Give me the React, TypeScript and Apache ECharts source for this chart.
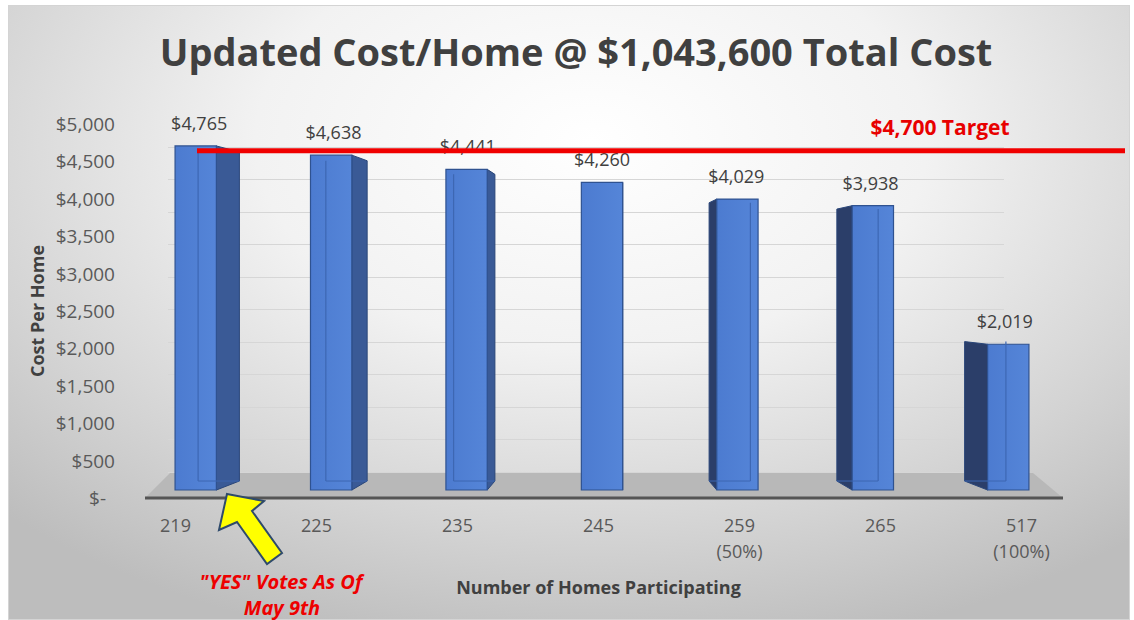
import React, { useEffect, useRef } from "react";
import * as echarts from "echarts";

// ---- data ----
const homes = ["219", "225", "235", "245", "259", "265", "517"];
const homeNotes = ["", "", "", "", "(50%)", "", "(100%)"];
const costPerHome = [4765, 4638, 4441, 4260, 4029, 3938, 2019];
const targetCost = 4700;
const yMin = 0;
const yMax = 5000;
const yStep = 500;
const titleText = "Updated Cost/Home @ $1,043,600 Total Cost";
const targetText = "$4,700 Target";
const noteLines = ['"YES" Votes As Of', "May 9th"];
const yName = "Cost Per Home";
const xName = "Number of Homes Participating";

// perspective (style) parameters
const VX = 602;
const VY = 284;
const KX = 0.0567;
const KY = 0.0436;
const FONT = "'Open Sans', 'Liberation Sans', sans-serif";

const money = (v: number) => "$" + v.toLocaleString("en-US");

export default function App() {
  const ref = useRef<HTMLDivElement>(null);
  useEffect(() => {
    if (!ref.current) return;
    const chart = echarts.init(ref.current, null, { renderer: "svg" });
    const xLabels = homes.map((h, i) => (homeNotes[i] ? h + "\n" + homeNotes[i] : h));

    const renderBar = (params: any, api: any) => {
      const i = api.value(0);
      const v = api.value(1);
      const top = api.coord([i, v]);
      const bot = api.coord([i, 0]);
      const w = api.size([1, 0])[0] * 0.305;
      const cx = top[0];
      const xl = cx - w / 2;
      const xr = cx + w / 2;
      const yt = top[1];
      const yb = bot[1];
      const dx = (VX - cx) * KX;
      const dyT = (VY - yt) * KY;
      const dyB = (VY - yb) * KY;
      const edge = dx >= 0 ? xr : xl;
      const back = dx >= 0 ? xl + dx : xr + dx;
      const children: any[] = [];
      children.push({
        type: "polygon",
        shape: {
          points: [
            [edge, yt],
            [edge + dx, yt + dyT],
            [edge + dx, yb + dyB],
            [edge, yb],
          ],
        },
        style: { fill: dx >= 0 ? "#3a5a96" : "#2b3e69", stroke: "#2a4679", lineWidth: 1 },
      });
      children.push({
        type: "rect",
        shape: { x: xl, y: yt, width: w, height: yb - yt },
        style: {
          fill: new echarts.graphic.LinearGradient(0, 0, 1, 0, [
            { offset: 0, color: "#4c7bd0" },
            { offset: 1, color: "#5585d8" },
          ]),
          stroke: "#2f5290",
          lineWidth: 1.2,
        },
      });
      if (Math.abs(dx) > 2) {
        children.push({
          type: "line",
          shape: { x1: back, y1: yt + dyT, x2: back, y2: yb + dyB },
          style: { stroke: "#3d67b3", lineWidth: 1.2 },
        });
        children.push({
          type: "line",
          shape: { x1: back, y1: yb + dyB, x2: dx >= 0 ? xr + dx : xl + dx, y2: yb + dyB },
          style: { stroke: "#3d67b3", lineWidth: 1 },
        });
      }
      children.push({
        type: "text",
        style: {
          text: money(v),
          x: cx + dx * 0.15,
          y: yt - 23,
          align: "center",
          verticalAlign: "middle",
          fill: "#404040",
          font: `18px ${FONT}`,
        },
      });
      return { type: "group", children };
    };

    const arrowPts = [
      [227, 494],
      [264, 501],
      [252, 511],
      [282, 553],
      [267, 564],
      [237, 522],
      [219, 530],
    ];

    chart.setOption({
      animation: false,
      title: {
        text: titleText,
        left: 571,
        textAlign: "center",
        top: 27,
        textStyle: { fontFamily: FONT, fontSize: 38, fontWeight: "bold", color: "#404040" },
      },
      grid: [
        { left: 168, right: 130, top: 147, bottom: 148, outerBoundsMode: "none" },
        { left: 125, right: 900, top: 124, bottom: 122, outerBoundsMode: "none" },
        { left: 105, right: 42, top: 124, bottom: 122, outerBoundsMode: "none" },
        { left: 128, right: 58, top: 129, bottom: 130, outerBoundsMode: "none" },
        { left: 197, right: 9, top: 129, bottom: 130, outerBoundsMode: "none" },
      ],
      xAxis: [
        { gridIndex: 0, type: "category", data: homes, show: false },
        { gridIndex: 1, type: "value", show: false },
        {
          gridIndex: 2,
          type: "category",
          data: xLabels,
          axisLine: { show: false },
          axisTick: { show: false },
          axisLabel: {
            margin: 14,
            color: "#595959",
            fontFamily: FONT,
            fontSize: 18,
            lineHeight: 26,
          },
          name: xName,
          nameLocation: "middle",
          nameGap: 80,
          nameTextStyle: { color: "#404040", fontFamily: FONT, fontSize: 18, fontWeight: "bold" },
        },
        { gridIndex: 3, type: "category", data: homes, show: false },
        { gridIndex: 4, type: "value", min: 0, max: 1, show: false },
      ],
      yAxis: [
        {
          gridIndex: 0,
          type: "value",
          min: yMin,
          max: yMax,
          interval: yStep,
          axisLine: { show: false },
          axisTick: { show: false },
          axisLabel: { show: false },
          splitLine: { show: true, lineStyle: { color: "#d6d6d6", width: 1 } },
        },
        {
          gridIndex: 1,
          type: "value",
          min: yMin,
          max: yMax,
          interval: yStep,
          axisLine: { show: false },
          axisTick: { show: false },
          splitLine: { show: false },
          axisLabel: {
            margin: 10,
            color: "#595959",
            fontFamily: FONT,
            fontSize: 19,
            formatter: (v: number) => (v === 0 ? "{z|$-}" : money(v)),
            rich: {
              z: { color: "#595959", fontFamily: FONT, fontSize: 19, padding: [0, 9, 0, 0] },
            },
          },
          name: yName,
          nameLocation: "middle",
          nameRotate: 90,
          nameGap: 79,
          nameTextStyle: { color: "#404040", fontFamily: FONT, fontSize: 18, fontWeight: "bold" },
        },
        { gridIndex: 2, type: "value", show: false },
        { gridIndex: 3, type: "value", min: yMin, max: yMax, show: false },
        { gridIndex: 4, type: "value", min: yMin, max: yMax, show: false },
      ],
      series: [
        {
          type: "custom",
          xAxisIndex: 3,
          yAxisIndex: 3,
          data: costPerHome.map((v, i) => [i, v]),
          encode: { x: 0, y: 1 },
          renderItem: renderBar,
          z: 3,
        },
        {
          type: "line",
          xAxisIndex: 4,
          yAxisIndex: 4,
          data: [
            [0, targetCost],
            [1, targetCost],
          ],
          symbol: "none",
          lineStyle: { color: "#f00000", width: 5, cap: "butt" },
          z: 6,
        },
      ],
      graphic: [
        {
          type: "polygon",
          z: 1,
          shape: {
            points: [
              [145, 498],
              [1063, 498],
              [1033, 473],
              [170, 473],
            ],
          },
          style: { fill: "#b8b8b8" },
        },
        {
          type: "line",
          z: 1,
          shape: { x1: 145, y1: 498, x2: 1063, y2: 498 },
          style: { stroke: "#555555", lineWidth: 3 },
        },
        {
          type: "polygon",
          z: 10,
          shape: { points: arrowPts },
          style: { fill: "#ffff00", stroke: "#2e4a6b", lineWidth: 2 },
        },
        {
          type: "text",
          z: 10,
          x: 281,
          y: 581,
          style: {
            text: noteLines[0],
            align: "center",
            verticalAlign: "middle",
            fill: "#ee0000",
            font: `italic bold 20px ${FONT}`,
          },
        },
        {
          type: "text",
          z: 10,
          x: 282,
          y: 607,
          style: {
            text: noteLines[1],
            align: "center",
            verticalAlign: "middle",
            fill: "#ee0000",
            font: `italic bold 20px ${FONT}`,
          },
        },
        {
          type: "text",
          z: 10,
          x: 940,
          y: 127,
          style: {
            text: targetText,
            align: "center",
            verticalAlign: "middle",
            fill: "#e80000",
            font: `bold 21px ${FONT}`,
          },
        },
      ],
    });
    return () => chart.dispose();
  }, []);

  return (
    <div style={{ position: "fixed", left: 0, top: 0, width: 1134, height: 620, background: "#ffffff", overflow: "hidden" }}>
      <div
        style={{
          position: "absolute",
          left: 8,
          top: 5,
          width: 1122,
          height: 615,
          boxSizing: "border-box",
          border: "1px solid #d4d4d4",
          background:
            "radial-gradient(ellipse 75% 85% at 52% 22%, #ffffff 0%, #f2f2f2 40%, #d4d4d4 75%, #bdbdbd 100%)",
        }}
      />
      <div ref={ref} style={{ position: "absolute", left: 0, top: 0, width: 1134, height: 620 }} />
    </div>
  );
}
